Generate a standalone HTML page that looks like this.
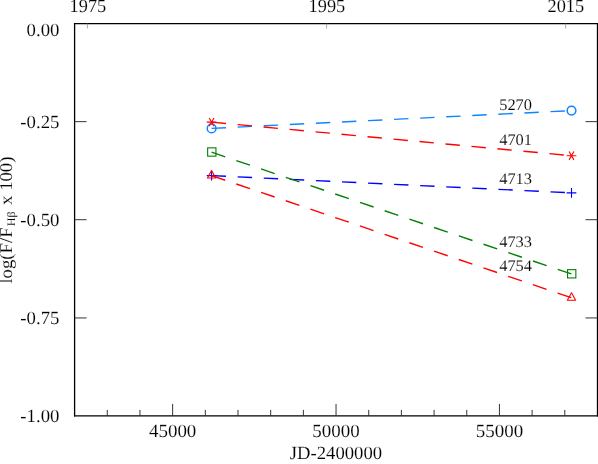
<!DOCTYPE html>
<html><head><meta charset="utf-8"><title>chart</title>
<style>html,body{margin:0;padding:0;background:#fff;overflow:hidden}svg{display:block;will-change:transform}text{font-family:"Liberation Serif",serif;fill:#000;text-rendering:geometricPrecision;stroke:#fff;stroke-width:0.12px}</style>
</head><body>
<svg width="598" height="464" viewBox="0 0 598 464">
<rect x="0" y="0" width="598" height="464" fill="#fff"/>
<g stroke="#000" stroke-width="1.3" fill="none" stroke-linecap="square">
<line x1="74.6" y1="23.55" x2="74.6" y2="415.9"/>
<line x1="74.6" y1="23.55" x2="597.5" y2="23.55"/>
<line x1="597.5" y1="23.55" x2="597.5" y2="415.9"/>
<line x1="74.6" y1="415.9" x2="597.5" y2="415.9"/>
</g>
<g stroke="#2a2a2a" stroke-width="0.95" fill="none">
<line x1="107.28" y1="415.9" x2="107.28" y2="409.90"/>
<line x1="139.96" y1="415.9" x2="139.96" y2="409.90"/>
<line x1="172.64" y1="415.9" x2="172.64" y2="403.90"/>
<line x1="205.32" y1="415.9" x2="205.32" y2="409.90"/>
<line x1="238.00" y1="415.9" x2="238.00" y2="409.90"/>
<line x1="270.68" y1="415.9" x2="270.68" y2="409.90"/>
<line x1="303.36" y1="415.9" x2="303.36" y2="409.90"/>
<line x1="336.04" y1="415.9" x2="336.04" y2="403.90"/>
<line x1="368.72" y1="415.9" x2="368.72" y2="409.90"/>
<line x1="401.40" y1="415.9" x2="401.40" y2="409.90"/>
<line x1="434.08" y1="415.9" x2="434.08" y2="409.90"/>
<line x1="466.76" y1="415.9" x2="466.76" y2="409.90"/>
<line x1="499.44" y1="415.9" x2="499.44" y2="403.90"/>
<line x1="532.12" y1="415.9" x2="532.12" y2="409.90"/>
<line x1="564.80" y1="415.9" x2="564.80" y2="409.90"/>
<line x1="74.6" y1="121.65" x2="86.60" y2="121.65"/>
<line x1="597.5" y1="121.65" x2="585.50" y2="121.65"/>
<line x1="74.6" y1="219.70" x2="86.60" y2="219.70"/>
<line x1="597.5" y1="219.70" x2="585.50" y2="219.70"/>
<line x1="74.6" y1="317.95" x2="86.60" y2="317.95"/>
<line x1="597.5" y1="317.95" x2="585.50" y2="317.95"/>
</g>
<g stroke="#888" stroke-width="0.7" fill="none">
<line x1="87.4" y1="23.55" x2="87.4" y2="28.55"/>
<line x1="326.6" y1="23.55" x2="326.6" y2="28.55"/>
<line x1="565.6" y1="23.55" x2="565.6" y2="28.55"/>
</g>
<g font-size="18">
<text transform="translate(59.45,35.6) scale(1.01,1)" text-anchor="end" font-size="18.6">0.00</text>
<text transform="translate(59.45,127.55) scale(1.01,1)" text-anchor="end" font-size="18.6">-0.25</text>
<text transform="translate(59.45,225.6) scale(1.01,1)" text-anchor="end" font-size="18.6">-0.50</text>
<text transform="translate(59.45,323.65) scale(1.01,1)" text-anchor="end" font-size="18.6">-0.75</text>
<text transform="translate(59.45,421.7) scale(1.01,1)" text-anchor="end" font-size="18.6">-1.00</text>
<text transform="translate(172.64,436.8) scale(1.02,1)" text-anchor="middle" font-size="18.6">45000</text>
<text transform="translate(336.04,436.8) scale(1.02,1)" text-anchor="middle" font-size="18.6">50000</text>
<text transform="translate(499.44,436.8) scale(1.02,1)" text-anchor="middle" font-size="18.6">55000</text>
<text transform="translate(87.9,11.5) scale(0.985,1)" text-anchor="middle" font-size="18.6">1975</text>
<text transform="translate(326.9,11.5) scale(0.985,1)" text-anchor="middle" font-size="18.6">1995</text>
<text transform="translate(565.8,11.5) scale(0.985,1)" text-anchor="middle" font-size="18.6">2015</text>
<text transform="translate(335.9,459.3) scale(1.005,1)" text-anchor="middle" font-size="18.6">JD-2400000</text>
<text transform="translate(11.8,283.6) rotate(-90) scale(1.04,1)" text-anchor="start">log(F/F<tspan font-size="11.5" dy="3.3" dx="1.2">Hβ</tspan><tspan dy="-3.3" dx="1.7"> x</tspan><tspan dx="0.1"> 100)</tspan></text>
</g>
<circle cx="211.6" cy="128.4" r="4.35" stroke="#1083ff" fill="#fff" fill-opacity="0.8" stroke-width="1.5"/>
<line x1="211.6" y1="128.4" x2="571.5" y2="110.6" stroke="#1083ff" stroke-width="1.4" stroke-dasharray="14.4 11.7" fill="none"/>
<circle cx="571.5" cy="110.6" r="4.35" stroke="#1083ff" fill="none" stroke-width="1.5"/>
<text transform="translate(532.0,109.95) scale(1.02,1)" text-anchor="end" font-size="16.1">5270</text>
<path d="M206.75 122.15H216.45M209.20 118.00L214.00 126.30M214.00 118.00L209.20 126.30" stroke="#ff0000" fill="none" stroke-width="1.1"/>
<line x1="211.6" y1="122.15" x2="571.5" y2="155.7" stroke="#ff0000" stroke-width="1.4" stroke-dasharray="14.4 11.7" fill="none"/>
<path d="M566.65 155.7H576.35M569.10 151.55L573.90 159.85M573.90 151.55L569.10 159.85" stroke="#ff0000" fill="none" stroke-width="1.1"/>
<text transform="translate(532.0,145.3) scale(1.02,1)" text-anchor="end" font-size="16.1">4701</text>
<path d="M206.75 175.6H216.45M211.6 170.75V180.45" stroke="#0000ff" fill="none" stroke-width="1.1"/>
<line x1="211.6" y1="175.6" x2="571.5" y2="192.85" stroke="#0000ff" stroke-width="1.4" stroke-dasharray="14.4 11.7" fill="none"/>
<path d="M566.65 192.85H576.35M571.5 188.00V197.70" stroke="#0000ff" fill="none" stroke-width="1.1"/>
<text transform="translate(532.0,184.2) scale(1.02,1)" text-anchor="end" font-size="16.1">4713</text>
<rect x="207.65" y="147.85" width="8.3" height="8.3" stroke="#008000" fill="none" stroke-width="1.1"/>
<line x1="211.6" y1="152.2" x2="571.5" y2="274.0" stroke="#008000" stroke-width="1.4" stroke-dasharray="14.4 11.7" fill="none"/>
<rect x="567.55" y="269.65" width="8.3" height="8.3" stroke="#008000" fill="none" stroke-width="1.1"/>
<text transform="translate(532.0,247.45) scale(1.02,1)" text-anchor="end" font-size="16.1">4733</text>
<path d="M211.6 170.60L215.75 178.00H207.45Z" stroke="#ff0000" fill="none" stroke-width="1.1" stroke-linejoin="round"/>
<line x1="211.6" y1="175.6" x2="571.5" y2="297.8" stroke="#ff0000" stroke-width="1.4" stroke-dasharray="14.4 11.7" fill="none"/>
<path d="M571.5 292.80L575.65 300.20H567.35Z" stroke="#ff0000" fill="none" stroke-width="1.1" stroke-linejoin="round"/>
<text transform="translate(532.0,270.8) scale(1.02,1)" text-anchor="end" font-size="16.1">4754</text>
</svg></body></html>
